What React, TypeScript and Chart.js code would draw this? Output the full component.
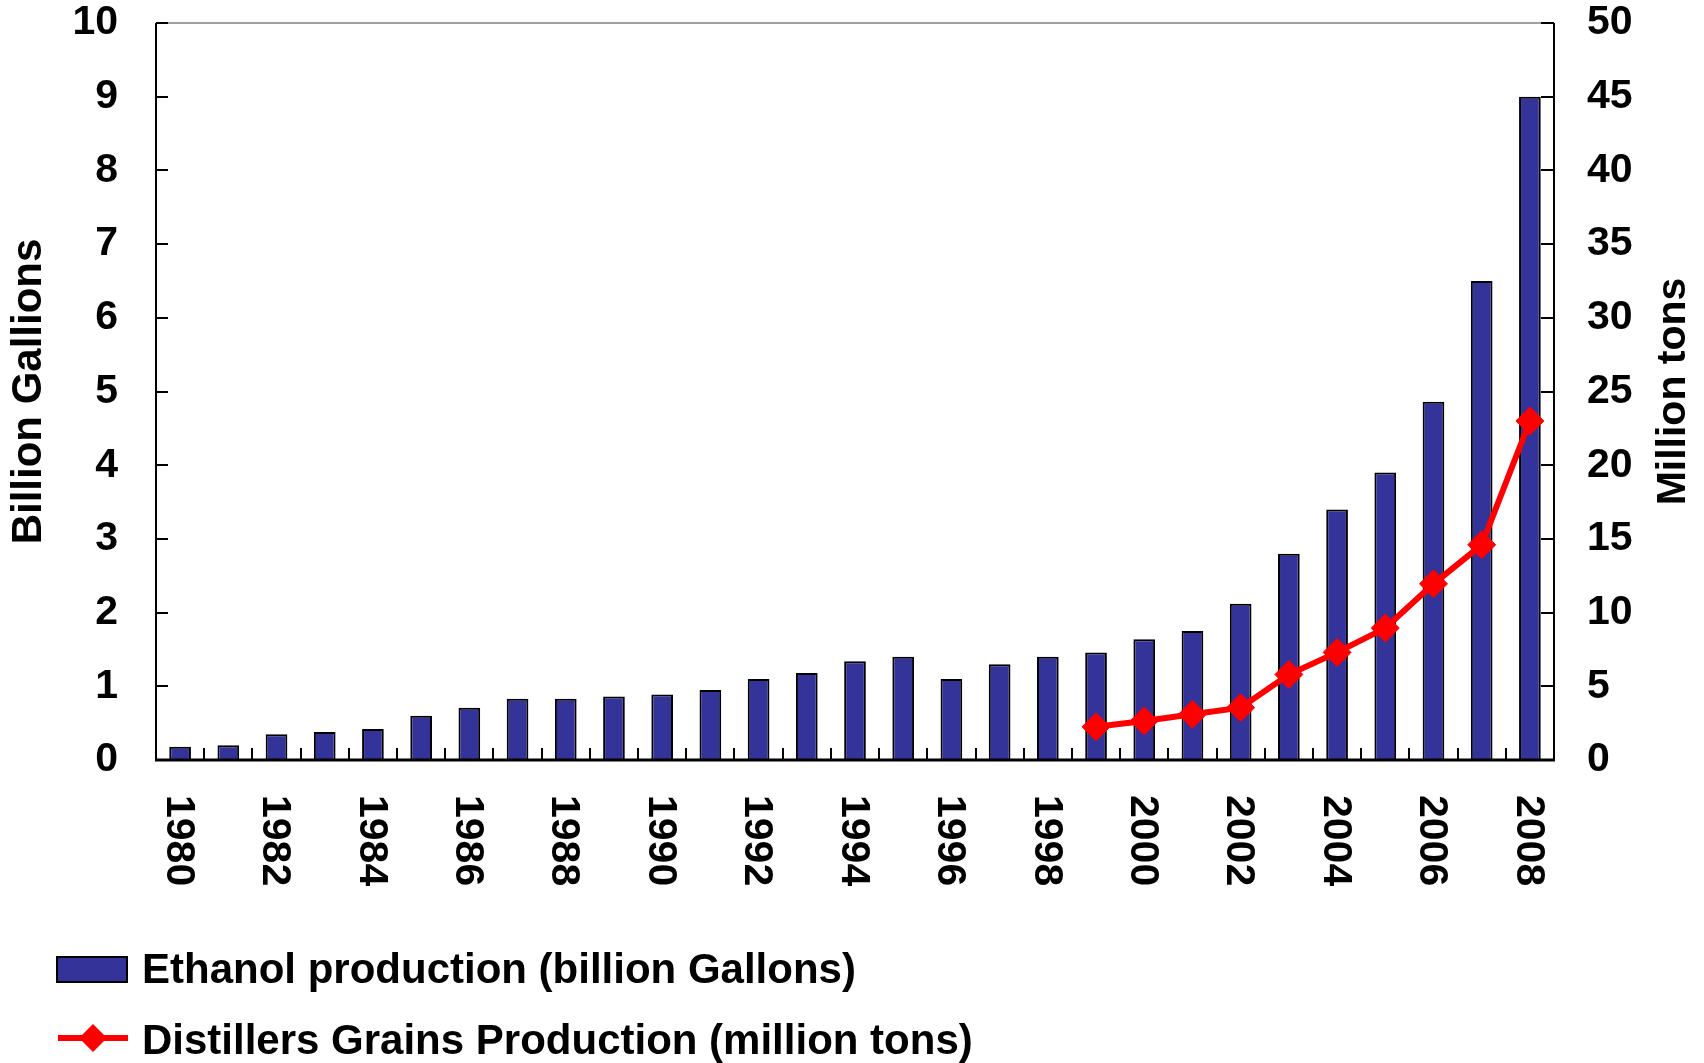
import React, { useEffect, useRef } from 'react';
import { Chart, registerables } from 'chart.js';

Chart.register(...registerables);

const years = [
  '1980', '1981', '1982', '1983', '1984', '1985', '1986', '1987', '1988', '1989',
  '1990', '1991', '1992', '1993', '1994', '1995', '1996', '1997', '1998', '1999',
  '2000', '2001', '2002', '2003', '2004', '2005', '2006', '2007', '2008',
];

const ethanol = [
  0.18, 0.2, 0.35, 0.38, 0.42, 0.6, 0.71, 0.83, 0.83, 0.86,
  0.89, 0.95, 1.1, 1.18, 1.34, 1.4, 1.1, 1.3, 1.4, 1.46,
  1.64, 1.75, 2.12, 2.8, 3.4, 3.9, 4.86, 6.5, 9.0,
];

const distillers = [
  null, null, null, null, null, null, null, null, null, null,
  null, null, null, null, null, null, null, null, null, 2.25,
  2.65, 3.1, 3.55, 5.8, 7.3, 8.95, 11.95, 14.6, 23.0,
];

const leftTitle = 'Billion Gallions';
const rightTitle = 'Million tons';
const barLabel = 'Ethanol production (billion Gallons)';
const lineLabel = 'Distillers Grains Production (million tons)';

const FONT = "'Liberation Sans', Arial, sans-serif";
const BAR_COLOR = '#333399';
const LINE_COLOR = '#FF0000';

function diamond(ctx: CanvasRenderingContext2D, x: number, y: number, r: number) {
  ctx.beginPath();
  ctx.moveTo(x, y - r);
  ctx.lineTo(x + r, y);
  ctx.lineTo(x, y + r);
  ctx.lineTo(x - r, y);
  ctx.closePath();
  ctx.fill();
}

const decorPlugin = {
  id: 'decor',
  afterDatasetsDraw(chart: any) {
    const ctx: CanvasRenderingContext2D = chart.ctx;
    const { left, right, top, bottom } = chart.chartArea;
    const x = chart.scales.x;
    const y = chart.scales.y;
    const y1 = chart.scales.y1;
    ctx.save();
    // plot frame top (gray)
    ctx.strokeStyle = '#808080';
    ctx.lineWidth = 1.5;
    ctx.beginPath();
    ctx.moveTo(left, top);
    ctx.lineTo(right, top);
    ctx.stroke();

    ctx.strokeStyle = '#000';
    ctx.lineWidth = 2;
    ctx.beginPath();
    ctx.moveTo(left, top);
    ctx.lineTo(left, bottom);
    ctx.moveTo(right, top);
    ctx.lineTo(right, bottom);
    ctx.stroke();
    ctx.lineWidth = 3;
    ctx.beginPath();
    ctx.moveTo(left - 1, bottom);
    ctx.lineTo(right + 1, bottom);
    ctx.stroke();

    // inward ticks
    ctx.lineWidth = 2;
    ctx.beginPath();
    y.ticks.forEach((t: any) => {
      const py = Math.round(y.getPixelForValue(t.value));
      ctx.moveTo(left, py);
      ctx.lineTo(left + 12, py);
    });
    y1.ticks.forEach((t: any) => {
      const py = Math.round(y1.getPixelForValue(t.value));
      ctx.moveTo(right - 13, py);
      ctx.lineTo(right, py);
    });
    for (let i = 1; i < years.length; i++) {
      const px = Math.round((x.getPixelForValue(i - 1) + x.getPixelForValue(i)) / 2);
      ctx.moveTo(px, bottom);
      ctx.lineTo(px, bottom - 12);
    }
    ctx.stroke();

    // x labels rotated clockwise
    ctx.fillStyle = '#000';
    ctx.font = `bold 41px ${FONT}`;
    ctx.textAlign = 'left';
    ctx.textBaseline = 'middle';
    years.forEach((yr, i) => {
      if (i % 2 !== 0) return;
      const px = x.getPixelForValue(i) - 2;
      ctx.save();
      ctx.translate(px, bottom + 35);
      ctx.rotate(Math.PI / 2);
      ctx.fillText(yr, 0, 0);
      ctx.restore();
    });

    // right axis title (reads bottom to top)
    ctx.save();
    ctx.translate(1674, (top + bottom) / 2);
    ctx.rotate(-Math.PI / 2);
    ctx.textAlign = 'center';
    ctx.textBaseline = 'middle';
    ctx.fillText(rightTitle, 0, 0);
    ctx.restore();

    // legend
    ctx.font = `bold 42px ${FONT}`;
    ctx.textAlign = 'left';
    ctx.textBaseline = 'alphabetic';
    ctx.fillStyle = BAR_COLOR;
    ctx.fillRect(57, 957, 70, 25);
    ctx.strokeStyle = '#000';
    ctx.lineWidth = 2;
    ctx.strokeRect(57, 957, 70, 25);
    ctx.fillStyle = '#000';
    ctx.fillText(barLabel, 142, 983);

    ctx.strokeStyle = LINE_COLOR;
    ctx.lineWidth = 6;
    ctx.beginPath();
    ctx.moveTo(58, 1038);
    ctx.lineTo(128, 1038);
    ctx.stroke();
    ctx.fillStyle = LINE_COLOR;
    diamond(ctx, 93, 1038, 14);
    ctx.fillStyle = '#000';
    ctx.fillText(lineLabel, 142, 1054);
    ctx.restore();
  },
};

export default function App() {
  const ref = useRef<HTMLCanvasElement | null>(null);

  useEffect(() => {
    if (!ref.current) return;
    const chart = new Chart(ref.current, {
      type: 'bar',
      data: {
        labels: years,
        datasets: [
          {
            type: 'line',
            label: lineLabel,
            data: distillers,
            yAxisID: 'y1',
            borderColor: LINE_COLOR,
            backgroundColor: LINE_COLOR,
            borderWidth: 6,
            pointStyle: 'rectRot',
            pointRadius: 14,
            pointBackgroundColor: LINE_COLOR,
            pointBorderColor: LINE_COLOR,
            pointBorderWidth: 1,
            spanGaps: false,
            tension: 0,
            order: 1,
          } as any,
          {
            type: 'bar',
            label: barLabel,
            data: ethanol,
            yAxisID: 'y',
            backgroundColor: BAR_COLOR,
            borderColor: '#000',
            borderWidth: 2,
            barPercentage: 0.45,
            categoryPercentage: 1,
            order: 2,
          } as any,
        ],
      },
      options: {
        animation: false,
        responsive: true,
        maintainAspectRatio: false,
        layout: { padding: { top: 23, left: 0, right: 0, bottom: 0 } },
        plugins: {
          legend: { display: false },
          tooltip: { enabled: false },
        },
        scales: {
          x: {
            type: 'category',
            offset: true,
            grid: { display: false },
            border: { display: false },
            ticks: { display: false },
            afterFit: (s: any) => {
              s.height = 303;
              s.paddingLeft = 0;
              s.paddingRight = 0;
            },
          },
          y: {
            position: 'left',
            min: 0,
            max: 10,
            ticks: {
              stepSize: 1,
              color: '#000',
              padding: 38,
              font: { family: FONT, size: 41, weight: 'bold' },
            },
            grid: { display: false, drawTicks: false },
            border: { display: false },
            title: {
              display: true,
              text: leftTitle,
              color: '#000',
              font: { family: FONT, size: 42, weight: 'bold' },
              padding: { top: 4, bottom: 0 },
            },
            afterFit: (s: any) => {
              s.width = 156;
              s.paddingTop = 0;
              s.paddingBottom = 0;
            },
          },
          y1: {
            position: 'right',
            min: 0,
            max: 50,
            ticks: {
              stepSize: 5,
              color: '#000',
              padding: 33,
              font: { family: FONT, size: 41, weight: 'bold' },
            },
            grid: { display: false, drawTicks: false },
            border: { display: false },
            afterFit: (s: any) => {
              s.width = 150;
              s.paddingTop = 0;
              s.paddingBottom = 0;
            },
          },
        },
      } as any,
      plugins: [decorPlugin],
    });
    return () => chart.destroy();
  }, []);

  return (
    <div style={{ position: 'fixed', left: 0, top: 0, width: 1704, height: 1063, background: '#fff' }}>
      <canvas ref={ref} />
    </div>
  );
}
